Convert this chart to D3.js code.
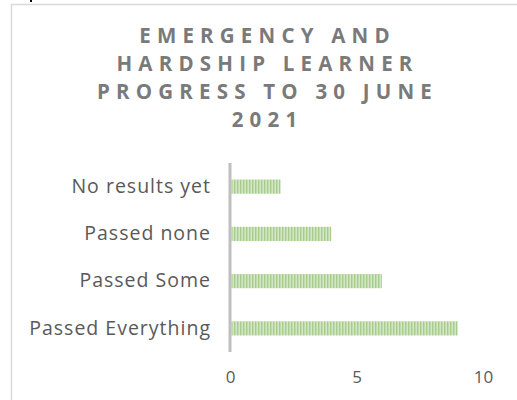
<!DOCTYPE html>
<html>
<head>
<meta charset="utf-8">
<script src="https://cdn.jsdelivr.net/npm/d3@7"></script>
<style>
  html, body { margin: 0; padding: 0; background: #fff; }
  svg { display: block; }
</style>
</head>
<body>
<svg id="chart" width="517" height="400"></svg>
<script>
// Chart data
const titleLines = ["EMERGENCY AND", "HARDSHIP LEARNER", "PROGRESS TO 30 JUNE", "2021"];
const categories = ["No results yet", "Passed none", "Passed Some", "Passed Everything"];
const values = [2, 4, 6, 9];
const xTicks = [0, 5, 10];

const svg = d3.select("#chart");

// Chart frame
svg.append("rect")
  .attr("x", 11.5).attr("y", 4.5)
  .attr("width", 540).attr("height", 440)
  .attr("fill", "#fff")
  .attr("stroke", "#d9d9d9").attr("stroke-width", 1.5);

svg.append("rect").attr("x", 30).attr("y", 0).attr("width", 2).attr("height", 2).attr("fill", "#000");

// Striped fill for the bars
const defs = svg.append("defs");
const pat = defs.append("pattern")
  .attr("id", "stripes")
  .attr("patternUnits", "userSpaceOnUse")
  .attr("width", 3).attr("height", 10);
pat.append("rect").attr("width", 3).attr("height", 10).attr("fill", "#d2e7c5");
pat.append("rect").attr("width", 1.4).attr("height", 10).attr("fill", "#a6cd8b");

// Title
const title = svg.append("text")
  .attr("text-anchor", "middle")
  .attr("font-family", "'Open Sans', sans-serif")
  .attr("font-weight", "bold")
  .attr("font-size", 20.5)
  .attr("letter-spacing", 6.2)
  .attr("fill", "#7a7a7a");
titleLines.forEach((t, i) => {
  title.append("tspan")
    .attr("x", 267.5)
    .attr("y", 43 + i * 28)
    .text(t);
});

// Scales
const x = d3.scaleLinear().domain([0, 10]).range([230, 483]);
const y = d3.scaleBand().domain(categories).range([163, 352]).paddingInner(0.7).paddingOuter(0.35);

// Bars
svg.append("g").selectAll("rect")
  .data(categories)
  .join("rect")
  .attr("x", x(0) + 1.5)
  .attr("y", d => y(d))
  .attr("width", (d, i) => x(values[i]) - x(0) - 1.5)
  .attr("height", y.bandwidth())
  .attr("fill", "url(#stripes)");

// Category axis
const yAxis = svg.append("g")
  .attr("transform", `translate(${x(0)},0)`)
  .call(d3.axisLeft(y).tickSize(0).tickPadding(19));
yAxis.select(".domain")
  .attr("stroke", "#bfbfbf").attr("stroke-width", 3)
  .attr("d", "M0,163V352");
yAxis.selectAll("text")
  .attr("font-family", "'Open Sans', sans-serif")
  .attr("font-size", 19.5)
  .attr("letter-spacing", 1)
  .attr("fill", "#595959");

// Value axis (labels only)
const xAxis = svg.append("g")
  .attr("transform", "translate(0,371)")
  .call(d3.axisBottom(x).tickValues(xTicks).tickSize(0).tickPadding(0).tickFormat(d3.format("d")));
xAxis.select(".domain").remove();
xAxis.selectAll("text")
  .attr("font-family", "'Open Sans', sans-serif")
  .attr("font-size", 17)
  .attr("fill", "#595959");
</script>
</body>
</html>
